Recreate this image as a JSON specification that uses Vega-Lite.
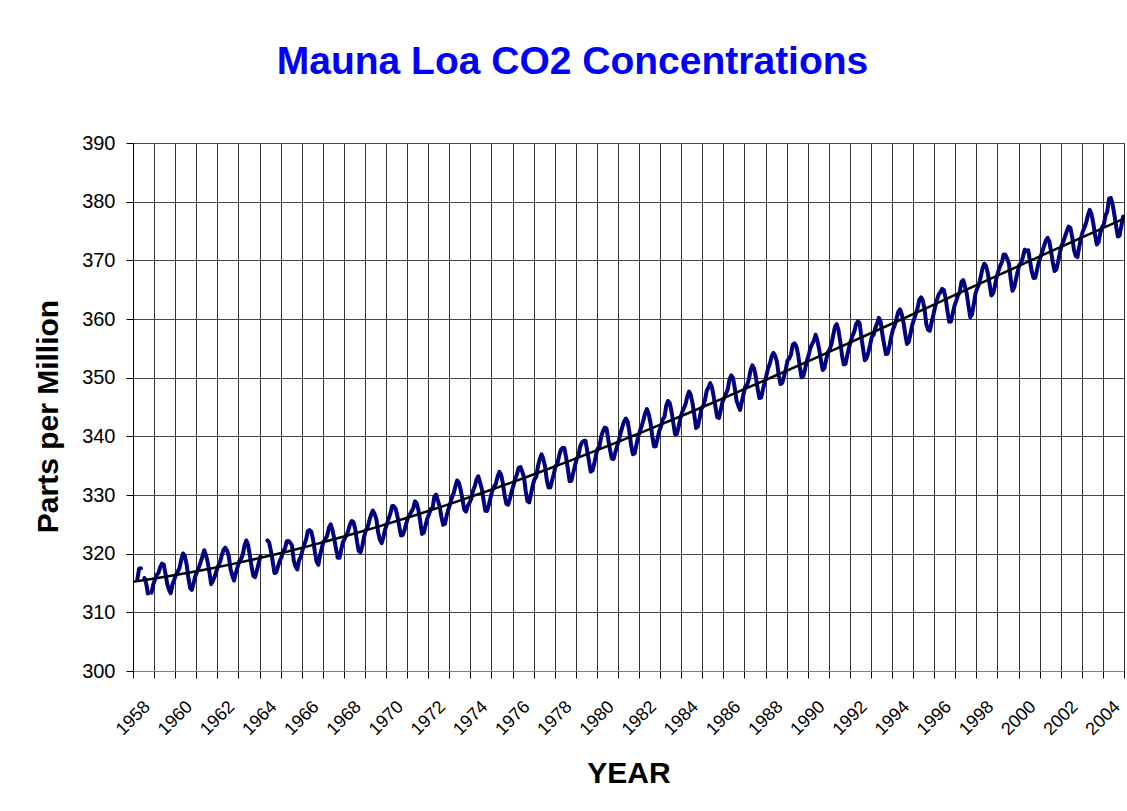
{
  "$schema": "https://vega.github.io/schema/vega-lite/v6.json",
  "autosize": {"type": "none"},
  "width": 991,
  "height": 528,
  "padding": {"left": 133, "top": 143, "right": 3, "bottom": 140},
  "background": "white",
  "title": {"text": "Mauna Loa CO2 Concentrations", "font": "Liberation Sans", "fontSize": 39, "fontWeight": "bold", "color": "#0000FF", "anchor": "middle", "frame": "group", "dx": -56, "baseline": "alphabetic", "offset": 20},
  "config": {
    "view": {"stroke": "#808080", "strokeWidth": 1},
    "axis": {"labelFont": "Liberation Sans", "titleFont": "Liberation Sans", "labelColor": "#000", "titleColor": "#000", "tickColor": "#000", "labelOverlap": false, "labelFlush": false, "labelBound": false}
  },
  "data": {"values": [
{"t":1958.208,"v":315.71},{"t":1958.292,"v":317.45},{"t":1958.375,"v":317.5},{"t":1958.458,"v":null},{"t":1958.542,"v":315.86},{"t":1958.625,"v":314.93},{"t":1958.708,"v":313.2},{"t":1958.792,"v":null},{"t":1958.875,"v":313.33},{"t":1958.958,"v":314.67},
{"t":1959.042,"v":315.62},{"t":1959.125,"v":316.38},{"t":1959.208,"v":316.71},{"t":1959.292,"v":317.72},{"t":1959.375,"v":318.29},{"t":1959.458,"v":318.15},{"t":1959.542,"v":316.54},{"t":1959.625,"v":314.8},{"t":1959.708,"v":313.84},{"t":1959.792,"v":313.26},{"t":1959.875,"v":314.8},{"t":1959.958,"v":315.58},
{"t":1960.042,"v":316.43},{"t":1960.125,"v":316.97},{"t":1960.208,"v":317.58},{"t":1960.292,"v":319.02},{"t":1960.375,"v":320.03},{"t":1960.458,"v":319.59},{"t":1960.542,"v":318.18},{"t":1960.625,"v":315.91},{"t":1960.708,"v":314.16},{"t":1960.792,"v":313.83},{"t":1960.875,"v":315},{"t":1960.958,"v":316.19},
{"t":1961.042,"v":316.93},{"t":1961.125,"v":317.7},{"t":1961.208,"v":318.54},{"t":1961.292,"v":319.48},{"t":1961.375,"v":320.58},{"t":1961.458,"v":319.77},{"t":1961.542,"v":318.57},{"t":1961.625,"v":316.79},{"t":1961.708,"v":314.8},{"t":1961.792,"v":315.38},{"t":1961.875,"v":316.1},{"t":1961.958,"v":317.01},
{"t":1962.042,"v":317.94},{"t":1962.125,"v":318.56},{"t":1962.208,"v":319.68},{"t":1962.292,"v":320.63},{"t":1962.375,"v":321.01},{"t":1962.458,"v":320.55},{"t":1962.542,"v":319.58},{"t":1962.625,"v":317.4},{"t":1962.708,"v":316.26},{"t":1962.792,"v":315.42},{"t":1962.875,"v":316.69},{"t":1962.958,"v":317.69},
{"t":1963.042,"v":318.74},{"t":1963.125,"v":319.08},{"t":1963.208,"v":319.86},{"t":1963.292,"v":321.39},{"t":1963.375,"v":322.25},{"t":1963.458,"v":321.47},{"t":1963.542,"v":319.74},{"t":1963.625,"v":317.77},{"t":1963.708,"v":316.21},{"t":1963.792,"v":315.99},{"t":1963.875,"v":317.12},{"t":1963.958,"v":318.31},
{"t":1964.042,"v":319.57},{"t":1964.125,"v":null},{"t":1964.208,"v":null},{"t":1964.292,"v":null},{"t":1964.375,"v":322.25},{"t":1964.458,"v":321.89},{"t":1964.542,"v":320.44},{"t":1964.625,"v":318.7},{"t":1964.708,"v":316.7},{"t":1964.792,"v":316.79},{"t":1964.875,"v":317.79},{"t":1964.958,"v":318.71},
{"t":1965.042,"v":319.44},{"t":1965.125,"v":320.44},{"t":1965.208,"v":320.89},{"t":1965.292,"v":322.13},{"t":1965.375,"v":322.16},{"t":1965.458,"v":321.87},{"t":1965.542,"v":321.39},{"t":1965.625,"v":318.81},{"t":1965.708,"v":317.81},{"t":1965.792,"v":317.3},{"t":1965.875,"v":318.87},{"t":1965.958,"v":319.42},
{"t":1966.042,"v":320.62},{"t":1966.125,"v":321.59},{"t":1966.208,"v":322.39},{"t":1966.292,"v":323.87},{"t":1966.375,"v":324.01},{"t":1966.458,"v":323.75},{"t":1966.542,"v":322.39},{"t":1966.625,"v":320.37},{"t":1966.708,"v":318.64},{"t":1966.792,"v":318.1},{"t":1966.875,"v":319.79},{"t":1966.958,"v":321.08},
{"t":1967.042,"v":322.07},{"t":1967.125,"v":322.5},{"t":1967.208,"v":323.04},{"t":1967.292,"v":324.42},{"t":1967.375,"v":325},{"t":1967.458,"v":324.09},{"t":1967.542,"v":322.55},{"t":1967.625,"v":320.92},{"t":1967.708,"v":319.31},{"t":1967.792,"v":319.31},{"t":1967.875,"v":320.72},{"t":1967.958,"v":321.96},
{"t":1968.042,"v":322.57},{"t":1968.125,"v":323.15},{"t":1968.208,"v":323.89},{"t":1968.292,"v":325.02},{"t":1968.375,"v":325.57},{"t":1968.458,"v":325.36},{"t":1968.542,"v":324.14},{"t":1968.625,"v":322.03},{"t":1968.708,"v":320.41},{"t":1968.792,"v":320.25},{"t":1968.875,"v":321.31},{"t":1968.958,"v":322.84},
{"t":1969.042,"v":324},{"t":1969.125,"v":324.42},{"t":1969.208,"v":325.64},{"t":1969.292,"v":326.66},{"t":1969.375,"v":327.34},{"t":1969.458,"v":326.76},{"t":1969.542,"v":325.88},{"t":1969.625,"v":323.67},{"t":1969.708,"v":322.38},{"t":1969.792,"v":321.78},{"t":1969.875,"v":322.85},{"t":1969.958,"v":324.11},
{"t":1970.042,"v":325.03},{"t":1970.125,"v":325.99},{"t":1970.208,"v":326.87},{"t":1970.292,"v":328.13},{"t":1970.375,"v":328.07},{"t":1970.458,"v":327.66},{"t":1970.542,"v":326.35},{"t":1970.625,"v":324.69},{"t":1970.708,"v":323.1},{"t":1970.792,"v":323.16},{"t":1970.875,"v":323.98},{"t":1970.958,"v":325.13},
{"t":1971.042,"v":326.17},{"t":1971.125,"v":326.68},{"t":1971.208,"v":327.18},{"t":1971.292,"v":327.78},{"t":1971.375,"v":328.92},{"t":1971.458,"v":328.57},{"t":1971.542,"v":327.34},{"t":1971.625,"v":325.46},{"t":1971.708,"v":323.36},{"t":1971.792,"v":323.57},{"t":1971.875,"v":324.8},{"t":1971.958,"v":326.01},
{"t":1972.042,"v":326.77},{"t":1972.125,"v":327.63},{"t":1972.208,"v":327.75},{"t":1972.292,"v":329.72},{"t":1972.375,"v":330.07},{"t":1972.458,"v":329.09},{"t":1972.542,"v":328.05},{"t":1972.625,"v":326.32},{"t":1972.708,"v":324.93},{"t":1972.792,"v":325.06},{"t":1972.875,"v":326.5},{"t":1972.958,"v":327.55},
{"t":1973.042,"v":328.54},{"t":1973.125,"v":329.56},{"t":1973.208,"v":330.3},{"t":1973.292,"v":331.5},{"t":1973.375,"v":332.48},{"t":1973.458,"v":332.07},{"t":1973.542,"v":330.87},{"t":1973.625,"v":329.31},{"t":1973.708,"v":327.51},{"t":1973.792,"v":327.18},{"t":1973.875,"v":328.16},{"t":1973.958,"v":328.64},
{"t":1974.042,"v":329.35},{"t":1974.125,"v":330.71},{"t":1974.208,"v":331.48},{"t":1974.292,"v":332.65},{"t":1974.375,"v":333.2},{"t":1974.458,"v":332.16},{"t":1974.542,"v":331.07},{"t":1974.625,"v":329.12},{"t":1974.708,"v":327.32},{"t":1974.792,"v":327.28},{"t":1974.875,"v":328.3},{"t":1974.958,"v":329.58},
{"t":1975.042,"v":330.73},{"t":1975.125,"v":331.46},{"t":1975.208,"v":331.9},{"t":1975.292,"v":333.17},{"t":1975.375,"v":333.94},{"t":1975.458,"v":333.45},{"t":1975.542,"v":331.97},{"t":1975.625,"v":329.95},{"t":1975.708,"v":328.5},{"t":1975.792,"v":328.34},{"t":1975.875,"v":329.37},{"t":1975.958,"v":330.58},
{"t":1976.042,"v":331.59},{"t":1976.125,"v":332.75},{"t":1976.208,"v":333.52},{"t":1976.292,"v":334.64},{"t":1976.375,"v":334.77},{"t":1976.458,"v":334},{"t":1976.542,"v":333.06},{"t":1976.625,"v":330.68},{"t":1976.708,"v":328.95},{"t":1976.792,"v":328.75},{"t":1976.875,"v":330.15},{"t":1976.958,"v":331.62},
{"t":1977.042,"v":332.66},{"t":1977.125,"v":333.13},{"t":1977.208,"v":334.95},{"t":1977.292,"v":336.13},{"t":1977.375,"v":336.93},{"t":1977.458,"v":336.17},{"t":1977.542,"v":334.88},{"t":1977.625,"v":332.56},{"t":1977.708,"v":331.29},{"t":1977.792,"v":331.27},{"t":1977.875,"v":332.41},{"t":1977.958,"v":333.6},
{"t":1978.042,"v":334.95},{"t":1978.125,"v":335.25},{"t":1978.208,"v":336.66},{"t":1978.292,"v":337.69},{"t":1978.375,"v":338.03},{"t":1978.458,"v":338.01},{"t":1978.542,"v":336.41},{"t":1978.625,"v":334.41},{"t":1978.708,"v":332.37},{"t":1978.792,"v":332.41},{"t":1978.875,"v":333.75},{"t":1978.958,"v":334.9},
{"t":1979.042,"v":336.14},{"t":1979.125,"v":336.69},{"t":1979.208,"v":338.27},{"t":1979.292,"v":338.96},{"t":1979.375,"v":339.21},{"t":1979.458,"v":339.26},{"t":1979.542,"v":337.54},{"t":1979.625,"v":335.75},{"t":1979.708,"v":333.98},{"t":1979.792,"v":334.19},{"t":1979.875,"v":335.31},{"t":1979.958,"v":336.81},
{"t":1980.042,"v":337.9},{"t":1980.125,"v":338.34},{"t":1980.208,"v":340.01},{"t":1980.292,"v":340.93},{"t":1980.375,"v":341.48},{"t":1980.458,"v":341.33},{"t":1980.542,"v":339.4},{"t":1980.625,"v":337.7},{"t":1980.708,"v":336.19},{"t":1980.792,"v":336.15},{"t":1980.875,"v":337.27},{"t":1980.958,"v":338.32},
{"t":1981.042,"v":339.29},{"t":1981.125,"v":340.55},{"t":1981.208,"v":341.61},{"t":1981.292,"v":342.53},{"t":1981.375,"v":343.03},{"t":1981.458,"v":342.54},{"t":1981.542,"v":340.78},{"t":1981.625,"v":338.44},{"t":1981.708,"v":336.95},{"t":1981.792,"v":337.08},{"t":1981.875,"v":338.58},{"t":1981.958,"v":339.88},
{"t":1982.042,"v":340.96},{"t":1982.125,"v":341.73},{"t":1982.208,"v":342.81},{"t":1982.292,"v":343.97},{"t":1982.375,"v":344.63},{"t":1982.458,"v":343.79},{"t":1982.542,"v":342.32},{"t":1982.625,"v":340.09},{"t":1982.708,"v":338.28},{"t":1982.792,"v":338.29},{"t":1982.875,"v":339.6},{"t":1982.958,"v":340.9},
{"t":1983.042,"v":341.68},{"t":1983.125,"v":342.9},{"t":1983.208,"v":343.33},{"t":1983.292,"v":345.25},{"t":1983.375,"v":346.03},{"t":1983.458,"v":345.63},{"t":1983.542,"v":344.19},{"t":1983.625,"v":342.27},{"t":1983.708,"v":340.35},{"t":1983.792,"v":340.38},{"t":1983.875,"v":341.59},{"t":1983.958,"v":343.05},
{"t":1984.042,"v":344.1},{"t":1984.125,"v":344.79},{"t":1984.208,"v":345.52},{"t":1984.292,"v":346.84},{"t":1984.375,"v":347.63},{"t":1984.458,"v":346.98},{"t":1984.542,"v":345.53},{"t":1984.625,"v":343.55},{"t":1984.708,"v":341.4},{"t":1984.792,"v":341.67},{"t":1984.875,"v":343.1},{"t":1984.958,"v":344.7},
{"t":1985.042,"v":345.21},{"t":1985.125,"v":346.16},{"t":1985.208,"v":347.74},{"t":1985.292,"v":348.34},{"t":1985.375,"v":349.06},{"t":1985.458,"v":348.38},{"t":1985.542,"v":346.72},{"t":1985.625,"v":345.02},{"t":1985.708,"v":343.27},{"t":1985.792,"v":343.13},{"t":1985.875,"v":344.49},{"t":1985.958,"v":345.88},
{"t":1986.042,"v":346.56},{"t":1986.125,"v":347.28},{"t":1986.208,"v":348.01},{"t":1986.292,"v":349.77},{"t":1986.375,"v":350.38},{"t":1986.458,"v":349.93},{"t":1986.542,"v":348.16},{"t":1986.625,"v":346.08},{"t":1986.708,"v":345.22},{"t":1986.792,"v":344.51},{"t":1986.875,"v":345.93},{"t":1986.958,"v":347.21},
{"t":1987.042,"v":348.52},{"t":1987.125,"v":348.73},{"t":1987.208,"v":349.73},{"t":1987.292,"v":351.31},{"t":1987.375,"v":352.09},{"t":1987.458,"v":351.53},{"t":1987.542,"v":350.11},{"t":1987.625,"v":348.08},{"t":1987.708,"v":346.52},{"t":1987.792,"v":346.59},{"t":1987.875,"v":347.96},{"t":1987.958,"v":349.16},
{"t":1988.042,"v":350.39},{"t":1988.125,"v":351.64},{"t":1988.208,"v":352.4},{"t":1988.292,"v":353.69},{"t":1988.375,"v":354.21},{"t":1988.458,"v":353.72},{"t":1988.542,"v":352.69},{"t":1988.625,"v":350.4},{"t":1988.708,"v":348.92},{"t":1988.792,"v":349.13},{"t":1988.875,"v":350.2},{"t":1988.958,"v":351.41},
{"t":1989.042,"v":352.91},{"t":1989.125,"v":353.27},{"t":1989.208,"v":353.96},{"t":1989.292,"v":355.64},{"t":1989.375,"v":355.86},{"t":1989.458,"v":355.37},{"t":1989.542,"v":353.99},{"t":1989.625,"v":351.81},{"t":1989.708,"v":350.05},{"t":1989.792,"v":350.25},{"t":1989.875,"v":351.49},{"t":1989.958,"v":352.85},
{"t":1990.042,"v":353.8},{"t":1990.125,"v":355.04},{"t":1990.208,"v":355.73},{"t":1990.292,"v":356.32},{"t":1990.375,"v":357.32},{"t":1990.458,"v":356.34},{"t":1990.542,"v":354.84},{"t":1990.625,"v":353.01},{"t":1990.708,"v":351.31},{"t":1990.792,"v":351.62},{"t":1990.875,"v":353.07},{"t":1990.958,"v":354.33},
{"t":1991.042,"v":354.84},{"t":1991.125,"v":355.73},{"t":1991.208,"v":357.23},{"t":1991.292,"v":358.66},{"t":1991.375,"v":359.13},{"t":1991.458,"v":358.13},{"t":1991.542,"v":356.19},{"t":1991.625,"v":353.85},{"t":1991.708,"v":352.25},{"t":1991.792,"v":352.35},{"t":1991.875,"v":353.81},{"t":1991.958,"v":355.12},
{"t":1992.042,"v":356.25},{"t":1992.125,"v":357.11},{"t":1992.208,"v":357.86},{"t":1992.292,"v":359.09},{"t":1992.375,"v":359.59},{"t":1992.458,"v":359.33},{"t":1992.542,"v":357.01},{"t":1992.625,"v":354.94},{"t":1992.708,"v":352.96},{"t":1992.792,"v":353.32},{"t":1992.875,"v":354.32},{"t":1992.958,"v":355.57},
{"t":1993.042,"v":357},{"t":1993.125,"v":357.31},{"t":1993.208,"v":358.47},{"t":1993.292,"v":359.27},{"t":1993.375,"v":360.19},{"t":1993.458,"v":359.52},{"t":1993.542,"v":357.33},{"t":1993.625,"v":355.64},{"t":1993.708,"v":354.03},{"t":1993.792,"v":354.12},{"t":1993.875,"v":355.41},{"t":1993.958,"v":356.91},
{"t":1994.042,"v":358.24},{"t":1994.125,"v":358.92},{"t":1994.208,"v":359.99},{"t":1994.292,"v":361.23},{"t":1994.375,"v":361.65},{"t":1994.458,"v":360.81},{"t":1994.542,"v":359.38},{"t":1994.625,"v":357.46},{"t":1994.708,"v":355.73},{"t":1994.792,"v":356.08},{"t":1994.875,"v":357.53},{"t":1994.958,"v":358.98},
{"t":1995.042,"v":359.92},{"t":1995.125,"v":360.86},{"t":1995.208,"v":361.83},{"t":1995.292,"v":363.3},{"t":1995.375,"v":363.69},{"t":1995.458,"v":363.19},{"t":1995.542,"v":361.64},{"t":1995.625,"v":359.12},{"t":1995.708,"v":358.17},{"t":1995.792,"v":357.99},{"t":1995.875,"v":359.45},{"t":1995.958,"v":360.68},
{"t":1996.042,"v":362.07},{"t":1996.125,"v":363.24},{"t":1996.208,"v":364.17},{"t":1996.292,"v":364.57},{"t":1996.375,"v":365.13},{"t":1996.458,"v":364.92},{"t":1996.542,"v":363.55},{"t":1996.625,"v":361.38},{"t":1996.708,"v":359.54},{"t":1996.792,"v":359.58},{"t":1996.875,"v":360.89},{"t":1996.958,"v":362.24},
{"t":1997.042,"v":363.09},{"t":1997.125,"v":364.03},{"t":1997.208,"v":364.51},{"t":1997.292,"v":366.35},{"t":1997.375,"v":366.64},{"t":1997.458,"v":365.59},{"t":1997.542,"v":364.31},{"t":1997.625,"v":362.25},{"t":1997.708,"v":360.29},{"t":1997.792,"v":360.82},{"t":1997.875,"v":362.49},{"t":1997.958,"v":364.38},
{"t":1998.042,"v":365.26},{"t":1998.125,"v":365.98},{"t":1998.208,"v":367.24},{"t":1998.292,"v":368.66},{"t":1998.375,"v":369.42},{"t":1998.458,"v":368.99},{"t":1998.542,"v":367.82},{"t":1998.625,"v":365.95},{"t":1998.708,"v":364.02},{"t":1998.792,"v":364.4},{"t":1998.875,"v":365.52},{"t":1998.958,"v":367.13},
{"t":1999.042,"v":368.18},{"t":1999.125,"v":369.07},{"t":1999.208,"v":369.68},{"t":1999.292,"v":370.99},{"t":1999.375,"v":370.96},{"t":1999.458,"v":370.3},{"t":1999.542,"v":369.45},{"t":1999.625,"v":366.9},{"t":1999.708,"v":364.81},{"t":1999.792,"v":365.37},{"t":1999.875,"v":366.72},{"t":1999.958,"v":368.1},
{"t":2000.042,"v":369.29},{"t":2000.125,"v":369.54},{"t":2000.208,"v":370.6},{"t":2000.292,"v":371.82},{"t":2000.375,"v":371.58},{"t":2000.458,"v":371.7},{"t":2000.542,"v":369.86},{"t":2000.625,"v":368.13},{"t":2000.708,"v":367},{"t":2000.792,"v":367.03},{"t":2000.875,"v":368.37},{"t":2000.958,"v":369.67},
{"t":2001.042,"v":370.59},{"t":2001.125,"v":371.51},{"t":2001.208,"v":372.43},{"t":2001.292,"v":373.37},{"t":2001.375,"v":373.85},{"t":2001.458,"v":373.22},{"t":2001.542,"v":371.5},{"t":2001.625,"v":369.61},{"t":2001.708,"v":368.18},{"t":2001.792,"v":368.45},{"t":2001.875,"v":369.76},{"t":2001.958,"v":371.24},
{"t":2002.042,"v":372.53},{"t":2002.125,"v":373.2},{"t":2002.208,"v":374.12},{"t":2002.292,"v":375.02},{"t":2002.375,"v":375.76},{"t":2002.458,"v":375.52},{"t":2002.542,"v":374.01},{"t":2002.625,"v":371.85},{"t":2002.708,"v":370.75},{"t":2002.792,"v":370.55},{"t":2002.875,"v":372.25},{"t":2002.958,"v":373.79},
{"t":2003.042,"v":374.88},{"t":2003.125,"v":375.64},{"t":2003.208,"v":376.45},{"t":2003.292,"v":377.73},{"t":2003.375,"v":378.6},{"t":2003.458,"v":377.88},{"t":2003.542,"v":376.34},{"t":2003.625,"v":374.41},{"t":2003.708,"v":372.72},{"t":2003.792,"v":373.08},{"t":2003.875,"v":374.68},{"t":2003.958,"v":375.63},
{"t":2004.042,"v":376.11},{"t":2004.125,"v":377.65},{"t":2004.208,"v":378.35},{"t":2004.292,"v":380.53},{"t":2004.375,"v":380.62},{"t":2004.458,"v":379.57},{"t":2004.542,"v":377.79},{"t":2004.625,"v":375.86},{"t":2004.708,"v":374.06},{"t":2004.792,"v":374.24},{"t":2004.875,"v":375.86},{"t":2004.958,"v":377.48}
  ]},
  "encoding": {
    "x": {"field": "t", "type": "quantitative",
      "scale": {"domain": [1958, 2005], "nice": false, "zero": false},
      "axis": {"title": "YEAR", "titleFontSize": 30, "titleFontWeight": "bold", "titleBaseline": "alphabetic", "titleY": 111,
        "values": [1958,1959,1960,1961,1962,1963,1964,1965,1966,1967,1968,1969,1970,1971,1972,1973,1974,1975,1976,1977,1978,1979,1980,1981,1982,1983,1984,1985,1986,1987,1988,1989,1990,1991,1992,1993,1994,1995,1996,1997,1998,1999,2000,2001,2002,2003,2004,2005],
        "labelExpr": "datum.value % 2 == 0 && datum.value < 2005 ? '' + datum.value : ''",
        "labelAngle": -45, "labelAlign": "center", "labelBaseline": "middle", "labelPadding": 40, "labelFontSize": 18,
        "tickSize": 7, "gridColor": "#333333", "gridOpacity": 1, "domainColor": "#808080"}},
    "y": {"field": "v", "type": "quantitative",
      "scale": {"domain": [300, 390], "nice": false, "zero": false},
      "axis": {"title": "Parts per Million", "titleFontSize": 30, "titleFontWeight": "bold", "titleBaseline": "alphabetic", "titleAngle": -90, "titleX": -75.5, "titleY": 273, "titleAlign": "center",
        "values": [300,310,320,330,340,350,360,370,380,390],
        "labelFontSize": 20, "labelPadding": 11, "tickSize": 7, "gridColor": "#444444", "gridOpacity": 1, "domainColor": "#000000"}}
  },
  "layer": [
    {"mark": {"type": "line", "color": "#000080", "strokeWidth": 4, "strokeJoin": "round", "strokeCap": "round"}},
    {"transform": [{"regression": "v", "on": "t", "method": "poly", "order": 3, "extent": [1958, 2005]}],
     "mark": {"type": "line", "color": "#000000", "strokeWidth": 2.5}}
  ]
}
